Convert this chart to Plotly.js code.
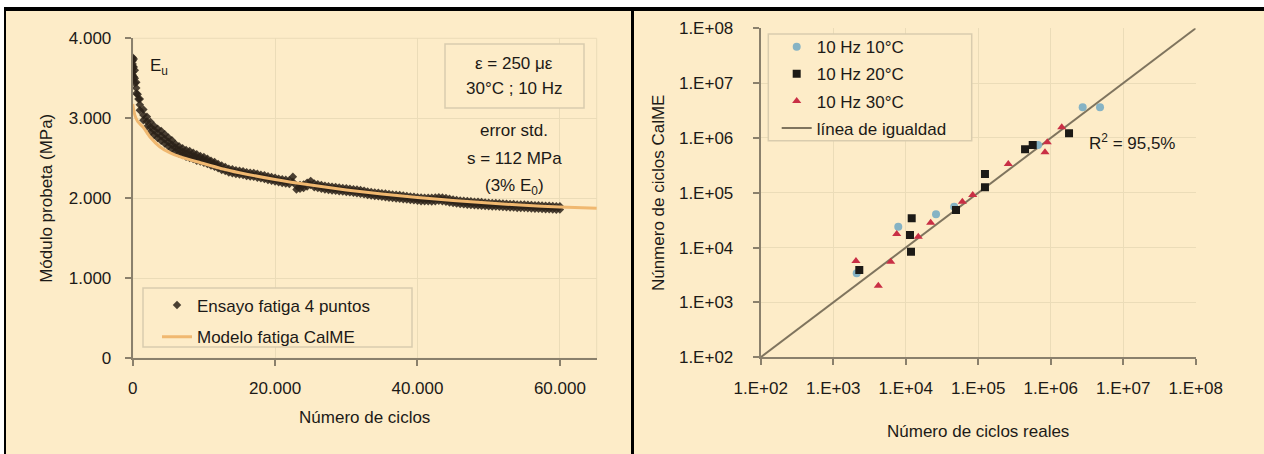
<!DOCTYPE html>
<html>
<head>
<meta charset="utf-8">
<script src="https://cdn.plot.ly/plotly-3.0.1.min.js"></script>
<style>
html,body{margin:0;padding:0;background:#ffffff;}
#chart{width:1264px;height:454px;}
</style>
</head>
<body>
<div id="chart"></div>
<script>
// ---------- Left chart data: módulo vs número de ciclos ----------
const ensayoCiclos = [0,500,1000,1500,2000,2500,3000,3500,4000,4500,5000,5500,6000,6500,7000,7500,8000,8500,9000,9500,
  10000,10500,11000,11500,12000,12500,13000,13500,14000,14500,15000,15500,16000,16500,17000,17500,18000,18500,19000,19500,
  20000,20500,21000,21500,22000,22500,23000,23500,24000,24500,25000,25500,26000,26500,27000,27500,28000,28500,29000,29500,
  30000,30500,31000,31500,32000,32500,33000,33500,34000,34500,35000,35500,36000,36500,37000,37500,38000,38500,39000,39500,
  40000,40500,41000,41500,42000,42500,43000,43500,44000,44500,45000,45500,46000,46500,47000,47500,48000,48500,49000,49500,
  50000,50500,51000,51500,52000,52500,53000,53500,54000,54500,55000,55500,56000,56500,57000,57500,58000,58500,59000,59500,60000];
const ensayoSup = [3760,3450,3240,3110,3020,2955,2905,2870,2840,2800,2760,2725,2680,2650,2625,2605,2590,2570,2550,2530,
  2515,2495,2470,2455,2430,2410,2390,2370,2362,2352,2345,2338,2326,2320,2318,2306,2295,2288,2276,2266,
  2256,2246,2238,2232,2226,2270,2158,2166,2172,2196,2218,2186,2176,2166,2158,2150,2146,2140,2134,2130,
  2126,2120,2114,2110,2104,2096,2086,2080,2074,2070,2064,2060,2054,2048,2045,2040,2034,2030,2024,2020,
  2014,2010,2008,2008,2006,2010,2014,2010,2004,1994,1986,1980,1974,1970,1966,1962,1958,1956,1954,1948,
  1944,1942,1940,1938,1934,1932,1930,1928,1924,1922,1922,1920,1918,1914,1912,1910,1908,1906,1904,1902,1900];
const ensayoInf = [3540,3310,3100,2975,2895,2830,2790,2755,2720,2685,2650,2615,2585,2560,2540,2520,2505,2490,2470,2460,
  2445,2430,2410,2395,2375,2355,2340,2322,2312,2305,2298,2290,2280,2272,2268,2258,2250,2240,2228,2220,
  2210,2200,2192,2184,2178,2205,2110,2120,2128,2148,2165,2138,2130,2120,2110,2104,2098,2094,2088,2084,
  2078,2074,2068,2064,2058,2050,2040,2034,2028,2024,2018,2014,2008,2004,1998,1994,1988,1984,1978,1974,
  1968,1964,1962,1962,1960,1964,1968,1962,1958,1948,1940,1934,1928,1924,1920,1916,1912,1910,1908,1904,
  1900,1898,1896,1893,1890,1888,1886,1884,1880,1878,1878,1876,1872,1870,1868,1866,1864,1862,1860,1858,1860];
const ensayoMedCiclos = [0,500,1000,1500,2000,2500,3000,3500,4000,4500,5000,5500,6000,6500,7000,7500,8000,8500,9000,9500,10000,10500,11000,11500,12000];
const ensayoMed = [3650,3380,3170,3040,2960,2890,2850,2810,2780,2740,2705,2670,2632,2605,2582,2562,2548,2530,2510,2495,2480,2462,2440,2425,2402];
const inicioCiclos = [0,0,0,0,150,150,150,300,300,300,700,800];
const inicioModulo = [3720,3680,3620,3580,3740,3640,3520,3600,3500,3440,3300,3240];

const calmeCiclos = [0,300,700,1500,2400,3800,5200,6600,9500,12500,15000,20000,25000,30000,35000,40000,45000,50000,55000,60000,65200];
const calmeModulo = [3180,3040,2960,2885,2770,2645,2570,2520,2445,2370,2320,2235,2165,2105,2055,2010,1972,1940,1912,1892,1875];

// ---------- Right chart data: ciclos reales vs ciclos CalME ----------
const c10Reales = [2110,7900,26200,46600,668000,2760000,4790000];
const c10CalME  = [3400,24100,40500,55800,745000,3630000,3630000];
const c20Reales = [2290,11460,12100,11830,49400,124000,124000,443000,565000,1790000];
const c20CalME  = [3910,17000,34300,8430,48500,220000,126000,622000,745000,1220000];
const c30Reales = [2060,4190,6210,7520,14900,22100,60400,84000,260000,897000,834000,1420000];
const c30CalME  = [5700,2020,5550,17700,15800,28500,68900,91300,335000,834000,548000,1570000];
const igualdad = [1e2,1e8];

const logTickVals = [1e2,1e3,1e4,1e5,1e6,1e7,1e8];
const logTickText = ['1.E+02','1.E+03','1.E+04','1.E+05','1.E+06','1.E+07','1.E+08'];

// ---------- styling ----------
const BG = '#fdecc8';
const GRID = '#ebdcb8';
const AX = '#8a806c';
const TXT = '#1c1a17';
const FONT = 'Liberation Sans, Arial, sans-serif';
const W = 1264, H = 454;
const px = v => v / W;
const py = v => 1 - v / H;

const ensX = ensayoCiclos.concat(ensayoCiclos, ensayoMedCiclos, inicioCiclos);
const ensY = ensayoSup.concat(ensayoInf, ensayoMed, inicioModulo);

const traces = [
  {x: ensX, y: ensY, type:'scatter', mode:'markers', name:'Ensayo fatiga 4 puntos',
   marker:{symbol:'diamond', size:6.5, color:'#2a2117', opacity:0.85}, xaxis:'x', yaxis:'y',
   legend:'legend', legendgroup:'a'},
  {x: calmeCiclos, y: calmeModulo, type:'scatter', mode:'lines', name:'Modelo fatiga CalME',
   line:{color:'#f0b870', width:3, shape:'spline', smoothing:0.6}, xaxis:'x', yaxis:'y',
   legend:'legend', legendgroup:'b'},
  {x: igualdad, y: igualdad, type:'scatter', mode:'lines', name:'línea de igualdad',
   line:{color:'#7f745e', width:2}, xaxis:'x2', yaxis:'y2', legend:'legend2', legendgroup:'g', legendrank:4},
  {x: c10Reales, y: c10CalME, type:'scatter', mode:'markers', name:'10 Hz 10°C',
   marker:{symbol:'circle', size:8, color:'#86b3c4'}, xaxis:'x2', yaxis:'y2', legend:'legend2', legendgroup:'c', legendrank:1},
  {x: c20Reales, y: c20CalME, type:'scatter', mode:'markers', name:'10 Hz 20°C',
   marker:{symbol:'square', size:8, color:'#1c1a16'}, xaxis:'x2', yaxis:'y2', legend:'legend2', legendgroup:'d', legendrank:2},
  {x: c30Reales, y: c30CalME, type:'scatter', mode:'markers', name:'10 Hz 30°C',
   marker:{symbol:'triangle-up', size:8, color:'#c92f45'}, xaxis:'x2', yaxis:'y2', legend:'legend2', legendgroup:'e', legendrank:3}
];

const axisCommon = {
  showline:true, linecolor:AX, linewidth:2, ticks:'outside', ticklen:6, tickwidth:2, tickcolor:AX,
  showgrid:true, gridcolor:GRID, gridwidth:1, zeroline:false,
  tickfont:{family:FONT, size:17, color:TXT}
};

const layout = {
  width:W, height:H, margin:{l:0,r:0,t:0,b:0},
  paper_bgcolor:'#ffffff', plot_bgcolor:'rgba(0,0,0,0)',
  separators:',.',
  font:{family:FONT, size:17, color:TXT},
  showlegend:true,
  xaxis: Object.assign({}, axisCommon, {
    domain:[px(132.7), px(596.7)], range:[0,65170], dtick:20000, tick0:0, tickformat:',',
    anchor:'y', ticklabelstandoff:7,
    title:{text:'Número de ciclos', font:{family:FONT, size:17, color:TXT}, standoff:14}
  }),
  yaxis: Object.assign({}, axisCommon, {
    domain:[py(358.3), py(38.3)], range:[0,4000], dtick:1000, tickformat:',',
    anchor:'x', ticklabelstandoff:10,
    title:{text:'Módulo probeta (MPa)', font:{family:FONT, size:17, color:TXT}, standoff:12}
  }),
  xaxis2: Object.assign({}, axisCommon, {
    domain:[px(760.7), px(1195.7)], type:'log', range:[2,8], tickvals:logTickVals, ticktext:logTickText,
    anchor:'y2', ticklabelstandoff:8,
    title:{text:'Número de ciclos reales', font:{family:FONT, size:17, color:TXT}, standoff:28}
  }),
  yaxis2: Object.assign({}, axisCommon, {
    domain:[py(357.3), py(28.3)], type:'log', range:[2,8], tickvals:logTickVals, ticktext:logTickText,
    anchor:'x2', ticklabelstandoff:16,
    title:{text:'Núnmero de ciclos CalME', font:{family:FONT, size:17, color:TXT}, standoff:10}
  }),
  legend:{x:px(157), y:py(287.5), xanchor:'left', yanchor:'top', bgcolor:'rgba(0,0,0,0)', borderwidth:0,
    tracegroupgap:6.6, font:{family:FONT, size:17, color:TXT}},
  legend2:{x:px(776.7), y:py(29.2), xanchor:'left', yanchor:'top', bgcolor:'rgba(0,0,0,0)', borderwidth:0,
    tracegroupgap:2, font:{family:FONT, size:17, color:TXT}},
  shapes:[
    {type:'rect', xref:'paper', yref:'paper', x0:px(6), x1:1, y0:0, y1:py(11), fillcolor:BG, line:{width:0}, layer:'below'},
    {type:'rect', xref:'paper', yref:'paper', x0:px(4), x1:1, y0:py(11), y1:py(7), fillcolor:'#000000', line:{width:0}, layer:'below'},
    {type:'rect', xref:'paper', yref:'paper', x0:px(4), x1:px(6), y0:0, y1:py(7), fillcolor:'#000000', line:{width:0}, layer:'below'},
    {type:'rect', xref:'paper', yref:'paper', x0:px(631), x1:px(634), y0:0, y1:py(7), fillcolor:'#000000', line:{width:0}, layer:'below'},
    {type:'rect', xref:'x domain', yref:'y domain', x0:0, x1:1, y0:0, y1:1, line:{color:GRID, width:1}, layer:'below'},
    {type:'rect', xref:'paper', yref:'paper', x0:px(143), x1:px(412), y0:py(347), y1:py(288), fillcolor:BG, line:{color:'#d9ccae', width:1.5}, layer:'above'},
    {type:'rect', xref:'paper', yref:'paper', x0:px(768.3), x1:px(971.7), y0:py(140.7), y1:py(34), fillcolor:BG, line:{color:'#d9ccae', width:1.5}, layer:'above'},
    {type:'rect', xref:'paper', yref:'paper', x0:px(445), x1:px(584), y0:py(108), y1:py(44), fillcolor:BG, line:{color:'#d9ccae', width:1.5}, layer:'above'}
  ],
  annotations:[
    {xref:'paper', yref:'paper', x:px(148), y:py(67), xanchor:'left', yanchor:'middle', showarrow:false, text:'E<sub>u</sub>'},
    {xref:'paper', yref:'paper', x:px(514), y:py(64), xanchor:'center', yanchor:'middle', showarrow:false, text:'ε = 250 με'},
    {xref:'paper', yref:'paper', x:px(514), y:py(88.5), xanchor:'center', yanchor:'middle', showarrow:false, text:'30°C ; 10 Hz'},
    {xref:'paper', yref:'paper', x:px(514), y:py(130), xanchor:'center', yanchor:'middle', showarrow:false, text:'error std.'},
    {xref:'paper', yref:'paper', x:px(514), y:py(159), xanchor:'center', yanchor:'middle', showarrow:false, text:'s = 112 MPa'},
    {xref:'paper', yref:'paper', x:px(514), y:py(187), xanchor:'center', yanchor:'middle', showarrow:false, text:'(3% E<sub>0</sub>)'},
    {xref:'paper', yref:'paper', x:px(1087), y:py(141.7), xanchor:'left', yanchor:'middle', showarrow:false, text:'R<sup>2</sup> = 95,5%'}
  ]
};

Plotly.newPlot('chart', traces, layout, {displayModeBar:false, staticPlot:true});
</script>
</body>
</html>
